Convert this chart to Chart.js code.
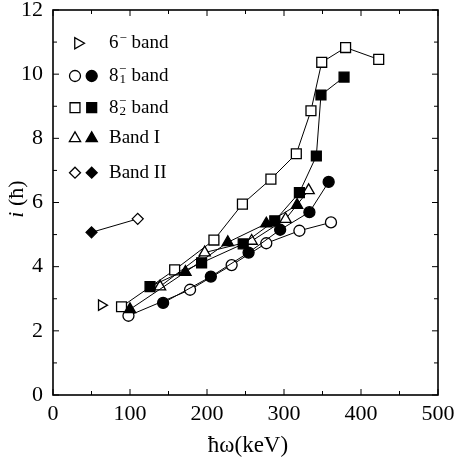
<!DOCTYPE html>
<html>
<head>
<meta charset="utf-8">
<script src="https://cdn.jsdelivr.net/npm/chart.js@4/dist/chart.umd.min.js"></script>
<style>
  html, body { margin: 0; padding: 0; background: #fff; }
  #wrap { width: 457px; height: 464px; }
</style>
</head>
<body>
<div id="wrap"><canvas id="bandChart" width="457" height="464"></canvas></div>
<script>
// hbar*omega (keV) and aligned spin i (hbar)
const band6Omega = [63];
const band6Spin = [2.8];

const b81OpenOmega = [98, 178, 232, 277, 320, 361];
const b81OpenSpin = [2.47, 3.28, 4.05, 4.73, 5.12, 5.38];
const b81FilledOmega = [143, 205, 254, 295, 333, 358];
const b81FilledSpin = [2.87, 3.69, 4.44, 5.15, 5.70, 6.64];

const b82OpenOmega = [89, 158, 209, 246, 283, 316, 335, 349, 380, 423];
const b82OpenSpin = [2.75, 3.90, 4.83, 5.95, 6.73, 7.52, 8.86, 10.37, 10.83, 10.46];
const b82FilledOmega = [126, 193, 247, 288, 320, 342, 348, 378];
const b82FilledSpin = [3.38, 4.12, 4.71, 5.43, 6.31, 7.45, 9.35, 9.91];

const bandIOpenOmega = [139, 197, 258, 302, 332];
const bandIOpenSpin = [3.38, 4.44, 4.80, 5.48, 6.38];
const bandIFilledOmega = [100, 172, 227, 277, 317];
const bandIFilledSpin = [2.67, 3.83, 4.76, 5.34, 5.92];

const bandIIOmega = [50, 110];
const bandIISpin = [5.07, 5.49];
const bandIIFilled = [true, false];

const xTickLabels = [0, 100, 200, 300, 400, 500];
const yTickLabels = [0, 2, 4, 6, 8, 10, 12];

const serif = "'Liberation Serif', 'DejaVu Serif', serif";

function pts(xs, ys) {
    return xs.map((v, i) => ({ x: v, y: ys[i] }));
}

function series(xs, ys, style, filled, radius, rotation) {
    return {
        data: pts(xs, ys),
        showLine: true,
        borderColor: '#000',
        borderWidth: 1,
        pointStyle: style,
        pointRadius: radius,
        pointRotation: rotation || 0,
        pointBackgroundColor: filled ? '#000' : '#fff',
        pointBorderColor: '#000',
        pointBorderWidth: 1.3
    };
}

// legend marker drawn by hand (two symbols per entry)
function marker(ctx, style, x, y, r, filled) {
    ctx.beginPath();
    if (style === 'circle') {
        ctx.arc(x, y, r, 0, Math.PI * 2);
    } else if (style === 'rect') {
        const s = r * Math.SQRT1_2;
        ctx.rect(x - s, y - s, 2 * s, 2 * s);
    } else if (style === 'triangle') {
        for (let k = 0; k < 3; k++) {
            const a = -Math.PI / 2 + k * 2 * Math.PI / 3;
            ctx[k ? 'lineTo' : 'moveTo'](x + r * Math.cos(a), y + r * Math.sin(a));
        }
        ctx.closePath();
    } else if (style === 'triRight') {
        for (let k = 0; k < 3; k++) {
            const a = k * 2 * Math.PI / 3;
            ctx[k ? 'lineTo' : 'moveTo'](x + r * Math.cos(a), y + r * Math.sin(a));
        }
        ctx.closePath();
    } else if (style === 'diamond') {
        ctx.moveTo(x, y - r); ctx.lineTo(x + r, y); ctx.lineTo(x, y + r); ctx.lineTo(x - r, y);
        ctx.closePath();
    }
    ctx.fillStyle = filled ? '#000' : '#fff';
    ctx.fill();
    ctx.lineWidth = 1.3;
    ctx.strokeStyle = '#000';
    ctx.stroke();
}

const framePlugin = {
    id: 'framePlugin',
    afterDraw(chart) {
        const { ctx, chartArea: a, scales: { x, y } } = chart;
        ctx.save();
        ctx.strokeStyle = '#000';
        ctx.lineWidth = 1;
        ctx.beginPath();
        x.ticks.forEach(t => {
            const px = x.getPixelForValue(t.value);
            const len = t.value % 100 === 0 ? 6 : 4;
            ctx.moveTo(px, a.bottom); ctx.lineTo(px, a.bottom - len);
            ctx.moveTo(px, a.top); ctx.lineTo(px, a.top + len);
        });
        y.ticks.forEach(t => {
            const py = y.getPixelForValue(t.value);
            const len = t.value % 2 === 0 ? 6 : 4;
            ctx.moveTo(a.left, py); ctx.lineTo(a.left + len, py);
            ctx.moveTo(a.right, py); ctx.lineTo(a.right - len, py);
        });
        ctx.stroke();
        ctx.lineWidth = 1.6;
        ctx.strokeRect(a.left, a.top, a.right - a.left, a.bottom - a.top);

        // axis titles
        ctx.fillStyle = '#000';
        ctx.textBaseline = 'middle';
        ctx.textAlign = 'center';
        ctx.font = '23px ' + serif;
        ctx.fillText('ħω(keV)', 248, 446);

        ctx.save();
        ctx.translate(17, 199);
        ctx.rotate(-Math.PI / 2);
        ctx.textAlign = 'left';
        ctx.font = 'italic 22px ' + serif;
        const iw = ctx.measureText('i ').width;
        ctx.font = '22px ' + serif;
        const rest = '(ħ)';
        const total = iw + ctx.measureText(rest).width;
        ctx.font = 'italic 22px ' + serif;
        ctx.fillText('i', -total / 2, 0);
        ctx.font = '22px ' + serif;
        ctx.fillText(rest, -total / 2 + iw, 0);
        ctx.restore();

        // legend
        const rows = [
            { y: 43.3, style: 'triRight', r: 6.5 },
            { y: 76, style: 'circle', r: 5.5 },
            { y: 107.7, style: 'rect', r: 7 },
            { y: 138.3, style: 'triangle', r: 6.5 },
            { y: 172.7, style: 'diamond', r: 5.5 }
        ];
        rows.forEach(row => {
            if (row.style === 'triRight') {
                marker(ctx, row.style, 78, row.y, row.r, false);
            } else {
                marker(ctx, row.style, 75, row.y, row.r, false);
                marker(ctx, row.style, 91.7, row.y, row.r, true);
            }
        });
        ctx.fillStyle = '#000';
        ctx.textAlign = 'left';
        ctx.textBaseline = 'middle';
        const tx = 109;
        const bx = 131.5;
        const big = '19px ' + serif;
        const small = '13px ' + serif;
        // 6^- band
        ctx.font = big; ctx.fillText('6', tx, rows[0].y);
        ctx.font = small; ctx.fillText('−', tx + 10.5, rows[0].y - 5);
        ctx.font = big; ctx.fillText('band', bx, rows[0].y);
        // 8_1^- band
        ctx.font = big; ctx.fillText('8', tx, rows[1].y);
        ctx.font = small; ctx.fillText('−', tx + 10, rows[1].y - 6); ctx.fillText('1', tx + 10.5, rows[1].y + 4);
        ctx.font = big; ctx.fillText('band', bx, rows[1].y);
        // 8_2^- band
        ctx.font = big; ctx.fillText('8', tx, rows[2].y);
        ctx.font = small; ctx.fillText('−', tx + 10, rows[2].y - 6); ctx.fillText('2', tx + 10.5, rows[2].y + 4);
        ctx.font = big; ctx.fillText('band', bx, rows[2].y);
        ctx.fillText('Band I', tx, rows[3].y);
        ctx.fillText('Band II', tx, rows[4].y);
        ctx.restore();
    }
};

const bandII = series(bandIIOmega, bandIISpin, 'rectRot', true, 5.5);
bandII.pointBackgroundColor = bandIIFilled.map(f => f ? '#000' : '#fff');

const ctx = document.getElementById('bandChart').getContext('2d');
const bandChart = new Chart(ctx, {
    type: 'scatter',
    data: {
        datasets: [
            series(b82FilledOmega, b82FilledSpin, 'rect', true, 7),
            series(b81FilledOmega, b81FilledSpin, 'circle', true, 5.5),
            series(bandIFilledOmega, bandIFilledSpin, 'triangle', true, 6.5),
            series(b81OpenOmega, b81OpenSpin, 'circle', false, 5.5),
            series(bandIOpenOmega, bandIOpenSpin, 'triangle', false, 6.5),
            series(b82OpenOmega, b82OpenSpin, 'rect', false, 7),
            series(band6Omega, band6Spin, 'triangle', false, 6, 90),
            bandII
        ]
    },
    options: {
        responsive: false,
        animation: false,
        layout: { padding: { top: 10, right: 19, left: 0, bottom: 0 } },
        plugins: { legend: { display: false }, tooltip: { enabled: false } },
        scales: {
            x: {
                type: 'linear', min: 0, max: 500,
                grid: { display: false },
                border: { display: false },
                ticks: {
                    stepSize: 50,
                    maxRotation: 0,
                    autoSkip: false,
                    padding: -2,
                    color: '#000',
                    font: { family: serif, size: 22 },
                    callback: v => xTickLabels.includes(v) ? String(v) : ''
                },
                afterFit(scale) {
                    scale.height = 69;
                    scale.paddingLeft = 0;
                    scale.paddingRight = 0;
                }
            },
            y: {
                type: 'linear', min: 0, max: 12,
                grid: { display: false },
                border: { display: false },
                ticks: {
                    stepSize: 1,
                    autoSkip: false,
                    padding: 2,
                    color: '#000',
                    font: { family: serif, size: 22 },
                    callback: v => yTickLabels.includes(v) ? String(v) : ''
                },
                afterFit(scale) {
                    scale.width = 53;
                    scale.paddingTop = 0;
                    scale.paddingBottom = 0;
                }
            }
        }
    },
    plugins: [framePlugin]
});
</script>
</body>
</html>
